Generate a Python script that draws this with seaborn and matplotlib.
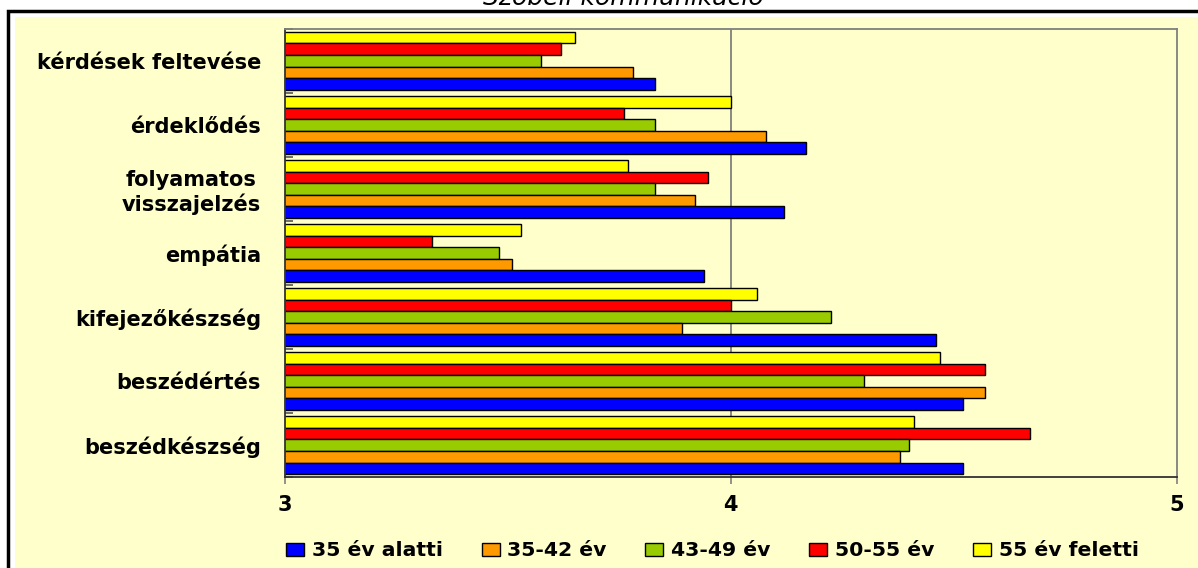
import matplotlib
matplotlib.use("Agg")
import matplotlib.pyplot as plt
import seaborn as sns
import pandas as pd
from matplotlib.patches import Rectangle, Patch
from matplotlib.ticker import FixedLocator

categories = ["kérdések feltevése", "érdeklődés", "folyamatos\nvisszajelzés",
              "empátia", "kifejezőkészség", "beszédértés", "beszédkészség"]
groups = ["35 év alatti", "35-42 év", "43-49 év", "50-55 év", "55 év feletti"]
colors = ["#0000FF", "#FF9900", "#99CC00", "#FF0000", "#FFFF00"]

v_35_alatt = [3.83, 4.17, 4.12, 3.94, 4.46, 4.52, 4.52]
v_35_42 = [3.78, 4.08, 3.92, 3.51, 3.89, 4.57, 4.38]
v_43_49 = [3.575, 3.83, 3.83, 3.48, 4.225, 4.30, 4.40]
v_50_55 = [3.62, 3.76, 3.95, 3.33, 4.00, 4.57, 4.67]
v_55_felett = [3.65, 4.00, 3.77, 3.53, 4.06, 4.47, 4.41]
x_ticks = [3, 4, 5]
title = "Szóbeli kommunikáció"

series = [v_35_alatt, v_35_42, v_43_49, v_50_55, v_55_felett]
rows = []
for g, vals in zip(groups, series):
    for c, v in zip(categories, vals):
        rows.append({"category": c, "group": g, "value": v})
df = pd.DataFrame(rows)

BG = "#FFFFCC"
W, H = 1198, 568
fig = plt.figure(figsize=(W / 100, H / 100), dpi=100)
fig.patch.set_facecolor("white")

# outer frame
fig.patches.append(Rectangle((8 / W, -0.1), 1.2, 1.1 - 11.5 / H, transform=fig.transFigure,
                             facecolor="white", edgecolor="black", linewidth=2.5, zorder=-10))
fig.patches.append(Rectangle((15 / W, -0.1), 1.2, 1.1 - 17 / H, transform=fig.transFigure,
                             facecolor=BG, edgecolor="none", zorder=-9))

ax = fig.add_axes([284.6 / W, 1 - 477.3 / H, (1176.7 - 284.6) / W, (477.3 - 28.7) / H])
ax.set_facecolor(BG)

palette = dict(zip(groups, colors))
sns.barplot(data=df, x="value", y="category", hue="group", hue_order=groups[::-1],
            order=categories, palette=palette, orient="h", width=0.9,
            edgecolor="black", linewidth=1.0, errorbar=None, legend=False, ax=ax,
            saturation=1)

ax.set_xlim(x_ticks[0], x_ticks[-1])
ax.set_xticks(x_ticks)
ax.set_xticklabels([str(t) for t in x_ticks])
ax.set_xlabel("")
ax.set_ylabel("")
ax.grid(False)
ax.axvline(4, color="#808080", linewidth=1.3, zorder=0.5)

for side in ["top", "right"]:
    ax.spines[side].set_color("#808080")
    ax.spines[side].set_linewidth(1.3)
for side in ["left", "bottom"]:
    ax.spines[side].set_color("#333333")
    ax.spines[side].set_linewidth(1.3)

ax.tick_params(axis="y", which="major", length=0, pad=17, labelsize=15)
ax.yaxis.set_minor_locator(FixedLocator([i - 0.5 for i in range(len(categories) + 1)]))
ax.tick_params(axis="y", which="minor", direction="in", length=6, color="#555555", width=1.2)
ax.tick_params(axis="x", which="major", direction="out", length=5, color="#808080",
               width=1.2, pad=8, labelsize=15)
for lab in ax.get_yticklabels():
    lab.set_fontweight("bold")
    lab.set_multialignment("center")
    lab.set_linespacing(1.2)
for lab in ax.get_xticklabels():
    lab.set_fontweight("bold")

fig.text(623 / W, 1 - 5 / H, title, ha="center", va="baseline", style="italic", fontsize=18)

handles = [Patch(facecolor=c, edgecolor="black", linewidth=1.0) for c in colors]
fig.legend(handles, groups, loc="center", bbox_to_anchor=(712.5 / W, 1 - 551 / H), ncol=5,
           frameon=False, prop={"weight": "bold", "size": 14.7}, handlelength=0.88,
           handleheight=0.64, handletextpad=0.38, columnspacing=1.9, borderaxespad=0)

fig.savefig("out.png", dpi=100, facecolor=fig.get_facecolor())
